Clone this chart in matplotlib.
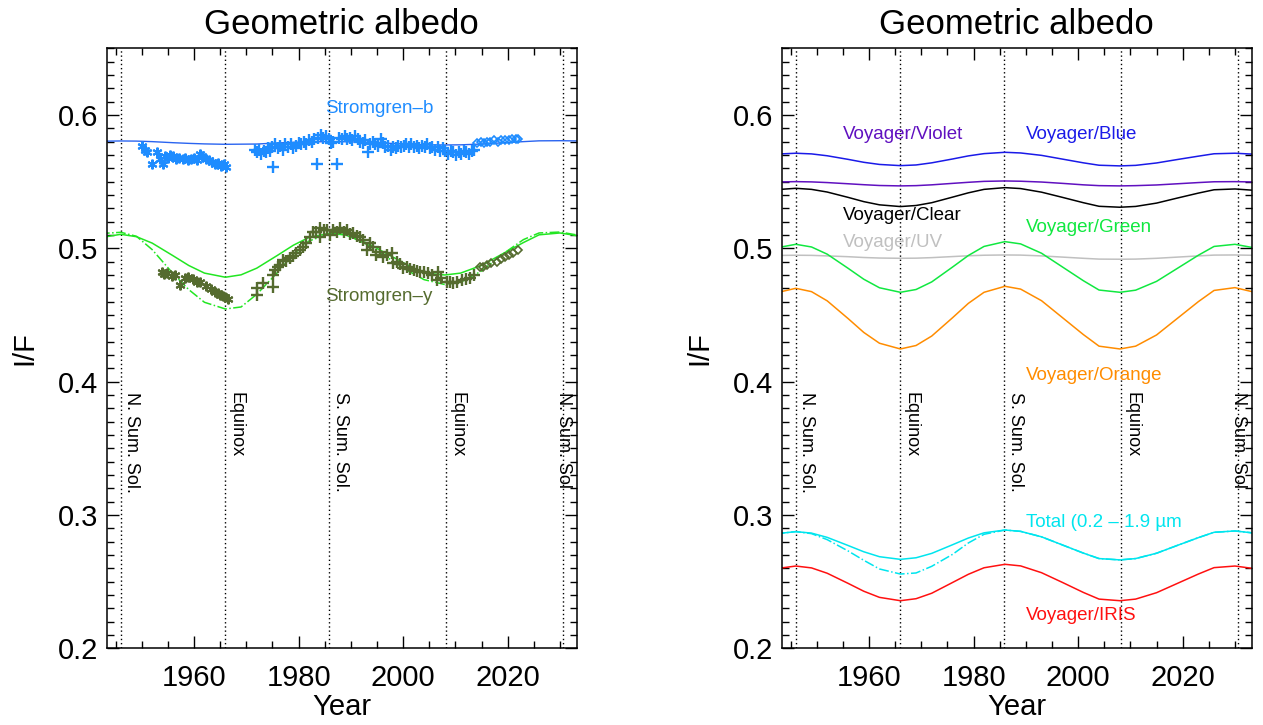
import matplotlib
matplotlib.use('Agg')
import matplotlib.pyplot as plt
from matplotlib.ticker import MultipleLocator, FormatStrFormatter

plt.rcParams['font.family'] = ['Liberation Sans', 'DejaVu Sans']

# model grid (years) shared by all model curves
yr_m = [1942, 1946, 1949, 1952, 1956, 1959, 1962, 1966, 1969, 1972, 1976, 1979, 1982,
        1986, 1989, 1993, 1997, 2001, 2004, 2008, 2011, 2015, 2019, 2023, 2026, 2030, 2034]

# left panel: Stromgren models
strom_b_model = [0.5803, 0.5805, 0.5804, 0.5800, 0.5792, 0.5787, 0.5783, 0.5780, 0.5781,
                 0.5782, 0.5790, 0.5795, 0.5798, 0.5800, 0.5799, 0.5795, 0.5788, 0.5781,
                 0.5776, 0.5775, 0.5776, 0.5782, 0.5791, 0.5800, 0.5806, 0.5807, 0.5805]
strom_y_model = [0.5079, 0.5105, 0.5087, 0.5039, 0.4944, 0.4871, 0.4814, 0.4783, 0.4801,
                 0.4851, 0.4948, 0.5023, 0.5082, 0.5113, 0.5099, 0.5041, 0.4957, 0.4872,
                 0.4814, 0.4800, 0.4814, 0.4872, 0.4958, 0.5043, 0.5101, 0.5115, 0.5090]
strom_y_model2 = [0.511, 0.512, 0.509, 0.499, 0.481, 0.469, 0.4595, 0.4545, 0.456,
                  0.4655, 0.482, 0.4955, 0.5055, 0.511, 0.5105, 0.503, 0.493, 0.483,
                  0.4765, 0.4728, 0.4745, 0.483, 0.4955, 0.5065, 0.5115, 0.5122, 0.5095]

# Stromgren-b observations
b_star_yr = [1950.0, 1950.6, 1951.1, 1951.9, 1953.0, 1953.5, 1954.0, 1954.4, 1955.0, 1955.5,
             1956.0, 1956.6, 1957.2, 1957.8, 1958.3, 1958.9, 1959.5, 1960.0, 1960.6, 1961.1,
             1961.6, 1962.2, 1962.8, 1963.4, 1964.0, 1964.6, 1965.2, 1965.7, 1966.2]
b_star_val = [0.577, 0.574, 0.572, 0.563, 0.572, 0.567, 0.563, 0.569, 0.568, 0.570,
              0.569, 0.567, 0.568, 0.567, 0.568, 0.566, 0.567, 0.568, 0.566, 0.571,
              0.569, 0.567, 0.566, 0.565, 0.563, 0.564, 0.562, 0.563, 0.561]
b_plus_yr = [1971.6, 1972.0, 1972.4, 1972.9, 1973.3, 1973.8, 1974.2, 1974.6, 1975.2, 1975.0,
             1975.5, 1976.0, 1976.5, 1977.0, 1977.5, 1978.0, 1978.5, 1979.0, 1979.5, 1980.0,
             1980.5, 1981.0, 1981.5, 1982.0, 1982.5, 1983.0, 1983.5, 1983.8, 1984.2, 1984.6,
             1985.2, 1985.8, 1986.2, 1986.6, 1987.4, 1987.8, 1988.3, 1988.8, 1989.3, 1989.8,
             1990.3, 1990.8, 1991.3, 1991.8, 1992.3, 1992.8, 1993.3, 1993.7, 1994.2, 1994.7,
             1995.2, 1995.7, 1996.1, 1996.6, 1997.1, 1997.6, 1998.1, 1998.6, 1999.1, 1999.6,
             2000.1, 2000.6, 2001.1, 2001.6, 2002.1, 2002.6, 2003.1, 2003.6, 2004.1, 2004.6,
             2005.1, 2005.6, 2006.1, 2006.6, 2007.1, 2007.6, 2008.1, 2008.6, 2009.1, 2009.6,
             2010.1, 2010.6, 2011.1, 2011.6, 2012.1, 2012.6, 2013.1, 2013.6]
b_plus_val = [0.574, 0.572, 0.574, 0.571, 0.573, 0.572, 0.575, 0.573, 0.561, 0.576,
              0.578, 0.575, 0.577, 0.574, 0.578, 0.576, 0.578, 0.575, 0.577, 0.579,
              0.578, 0.580, 0.578, 0.581, 0.580, 0.582, 0.563, 0.583, 0.585, 0.583,
              0.584, 0.582, 0.579, 0.580, 0.563, 0.583, 0.582, 0.584, 0.582, 0.583,
              0.581, 0.584, 0.582, 0.580, 0.579, 0.581, 0.5725, 0.578, 0.580, 0.578,
              0.577, 0.582, 0.579, 0.576, 0.577, 0.574, 0.576, 0.575, 0.577, 0.576,
              0.577, 0.578, 0.576, 0.578, 0.576, 0.577, 0.575, 0.577, 0.576, 0.578,
              0.575, 0.576, 0.574, 0.576, 0.573, 0.575, 0.573, 0.571, 0.573, 0.572,
              0.570, 0.572, 0.571, 0.573, 0.572, 0.571, 0.573, 0.574]
b_dia_yr = [2014.2, 2014.8, 2015.4, 2016.0, 2016.7, 2017.4, 2018.1, 2018.8, 2019.5, 2020.2,
            2020.9, 2021.5, 2022.0]
b_dia_val = [0.579, 0.580, 0.579, 0.580, 0.580, 0.581, 0.580, 0.581, 0.581, 0.581,
             0.582, 0.582, 0.582]

# Stromgren-y observations
y_star_yr = [1953.8, 1954.3, 1954.8, 1955.7, 1956.3, 1957.3, 1958.2, 1958.9, 1959.8, 1960.5,
             1961.2, 1962.3, 1963.2, 1964.0, 1964.6, 1965.0, 1965.5, 1965.9, 1966.5]
y_star_val = [0.4825, 0.4810, 0.4813, 0.4792, 0.4800, 0.4725, 0.4780, 0.4783, 0.4767, 0.4750,
              0.4745, 0.4718, 0.4695, 0.4675, 0.4665, 0.4650, 0.4640, 0.4633, 0.4618]
y_plus_yr = [1972.0, 1972.0, 1973.2, 1975.2, 1975.2, 1975.5, 1976.0, 1976.4, 1977.1, 1977.6,
             1978.3, 1978.9, 1979.6, 1980.2, 1980.9, 1981.5, 1982.2, 1982.8, 1983.4, 1984.1,
             1984.1, 1984.8, 1985.4, 1986.0, 1986.6, 1987.3, 1987.9, 1988.6, 1989.2, 1989.9,
             1990.5, 1991.1, 1991.7, 1992.4, 1993.0, 1993.6, 1994.3, 1994.9, 1995.6, 1996.2,
             1997.0, 1997.8, 1998.1, 1998.8, 1999.4, 2000.0, 2000.7, 2001.3, 2002.0, 2002.6,
             2003.2, 2004.0, 2004.8, 2005.5, 2006.4, 2006.7, 2007.3, 2008.3, 2008.9, 2009.6,
             2010.3, 2011.2, 2012.0, 2012.8, 2013.6]
y_plus_val = [0.4700, 0.4650, 0.4738, 0.4713, 0.4800, 0.4838, 0.4860, 0.4875, 0.4913, 0.4905,
              0.4925, 0.4945, 0.4963, 0.4985, 0.5012, 0.5040, 0.5088, 0.5125, 0.5120, 0.5150,
              0.5088, 0.5140, 0.5135, 0.5100, 0.5138, 0.5125, 0.5150, 0.5120, 0.5138, 0.5110,
              0.5113, 0.5095, 0.5088, 0.5060, 0.4988, 0.5040, 0.5013, 0.4950, 0.4975, 0.4938,
              0.4950, 0.4963, 0.4888, 0.4900, 0.4880, 0.4850, 0.4860, 0.4845, 0.4838, 0.4830,
              0.4825, 0.4820, 0.4813, 0.4800, 0.4763, 0.4825, 0.4780, 0.4750, 0.4745, 0.4738,
              0.4750, 0.4763, 0.4770, 0.4775, 0.4800]
y_dia_yr = [2014.7, 2015.3, 2016.0, 2016.9, 2017.9, 2018.7, 2019.5, 2020.3, 2021.1, 2022.0]
y_dia_val = [0.4863, 0.4860, 0.4875, 0.4890, 0.4900, 0.4920, 0.4938, 0.4950, 0.4963, 0.4988]

# right panel: Voyager models
voy_blue = [0.5706, 0.5713, 0.5708, 0.5694, 0.5667, 0.5645, 0.5629, 0.5620, 0.5625,
            0.5641, 0.5670, 0.5693, 0.5710, 0.5720, 0.5715, 0.5697, 0.5669, 0.5641,
            0.5623, 0.5618, 0.5622, 0.5640, 0.5666, 0.5691, 0.5709, 0.5713, 0.5705]
voy_violet = [0.5497, 0.5500, 0.5498, 0.5493, 0.5484, 0.5477, 0.5471, 0.5468, 0.5470,
              0.5476, 0.5487, 0.5495, 0.5502, 0.5505, 0.5503, 0.5497, 0.5487, 0.5476,
              0.5470, 0.5468, 0.5470, 0.5475, 0.5484, 0.5493, 0.5499, 0.5500, 0.5497]
voy_clear = [0.5439, 0.5450, 0.5442, 0.5422, 0.5382, 0.5350, 0.5326, 0.5313, 0.5321,
             0.5342, 0.5384, 0.5416, 0.5442, 0.5455, 0.5448, 0.5421, 0.5382, 0.5342,
             0.5315, 0.5308, 0.5314, 0.5339, 0.5377, 0.5414, 0.5439, 0.5445, 0.5434]
voy_uv = [0.4946, 0.4948, 0.4947, 0.4943, 0.4937, 0.4931, 0.4927, 0.4925, 0.4926,
          0.4930, 0.4938, 0.4944, 0.4948, 0.4950, 0.4949, 0.4943, 0.4934, 0.4925,
          0.4919, 0.4918, 0.4919, 0.4925, 0.4934, 0.4943, 0.4949, 0.4950, 0.4947]
voy_green = [0.5001, 0.5030, 0.5010, 0.4956, 0.4850, 0.4768, 0.4704, 0.4670, 0.4691,
             0.4748, 0.4860, 0.4946, 0.5014, 0.5050, 0.5033, 0.4963, 0.4860, 0.4757,
             0.4687, 0.4670, 0.4686, 0.4752, 0.4850, 0.4948, 0.5014, 0.5030, 0.5001]
voy_orange = [0.4664, 0.4700, 0.4675, 0.4606, 0.4473, 0.4369, 0.4288, 0.4245, 0.4271,
              0.4342, 0.4480, 0.4587, 0.4670, 0.4715, 0.4694, 0.4607, 0.4480, 0.4353,
              0.4266, 0.4245, 0.4266, 0.4350, 0.4475, 0.4600, 0.4684, 0.4705, 0.4668]
total = [0.2858, 0.2875, 0.2864, 0.2832, 0.2771, 0.2724, 0.2687, 0.2667, 0.2679,
         0.2712, 0.2777, 0.2827, 0.2866, 0.2887, 0.2877, 0.2836, 0.2775, 0.2714,
         0.2673, 0.2663, 0.2673, 0.2713, 0.2772, 0.2830, 0.2870, 0.2880, 0.2863]
total2 = [0.2858, 0.2875, 0.2860, 0.2815, 0.2730, 0.2660, 0.2595, 0.2557, 0.2565,
          0.2615, 0.2705, 0.2790, 0.2855, 0.2887, 0.2877, 0.2836, 0.2775, 0.2714,
          0.2673, 0.2663, 0.2673, 0.2713, 0.2772, 0.2830, 0.2870, 0.2880, 0.2863]
voy_iris = [0.2596, 0.2617, 0.2603, 0.2563, 0.2487, 0.2428, 0.2382, 0.2357, 0.2372,
            0.2413, 0.2494, 0.2555, 0.2604, 0.2630, 0.2618, 0.2567, 0.2494, 0.2419,
            0.2369, 0.2357, 0.2369, 0.2417, 0.2487, 0.2557, 0.2605, 0.2617, 0.2596]

season_yr = [1946.0, 1966.0, 1985.9, 2008.2, 2030.6]
season_lab = ['N. Sum. Sol.', 'Equinox', 'S. Sum. Sol.', 'Equinox', 'N. Sum. Sol']

c_bpts = '#1e8cff'
c_bline = '#2a64f0'
c_ygreen = '#22e622'
c_olive = '#556b2f'

W, H = 1263, 725
fig = plt.figure(figsize=(W / 100, H / 100), dpi=100)
ax1 = fig.add_axes([106.7 / W, 1 - 648.3 / H, 470 / W, 600 / H])
ax2 = fig.add_axes([781.7 / W, 1 - 648.3 / H, 470 / W, 600 / H])


def setup(ax):
    ax.set_xlim(1943.3, 2033.2)
    ax.set_ylim(0.2, 0.65)
    ax.set_xticks([1960, 1980, 2000, 2020])
    ax.set_yticks([0.2, 0.3, 0.4, 0.5, 0.6])
    ax.yaxis.set_major_formatter(FormatStrFormatter('%.1f'))
    ax.xaxis.set_minor_locator(MultipleLocator(5))
    ax.yaxis.set_minor_locator(MultipleLocator(0.01))
    ax.tick_params(which='both', direction='in', top=True, right=True, width=1.0)
    ax.tick_params(which='major', length=8.5, labelsize=21)
    ax.tick_params(which='minor', length=4.7)
    ax.tick_params(axis='x', pad=11)
    ax.tick_params(axis='y', pad=6)
    for s in ax.spines.values():
        s.set_linewidth(1.1)
    ax.set_title('Geometric albedo', fontsize=25, pad=10)
    ax.set_xlabel('Year', fontsize=21, labelpad=1)
    ax.set_ylabel('I/F', fontsize=21, labelpad=14)
    for i, (x, lab) in enumerate(zip(season_yr, season_lab)):
        ax.axvline(x, color='k', ls=(0, (1, 2)), lw=1.0, zorder=1)
        if i == len(season_yr) - 1:
            ax.text(x, 0.392, lab, rotation=-90, ha='center', va='top', fontsize=13)
        else:
            ax.text(x + 0.5, 0.392, lab, rotation=-90, ha='left', va='top', fontsize=13)


setup(ax1)
setup(ax2)

# left panel
ax1.plot(yr_m, strom_b_model, color=c_bline, lw=1.0)
ax1.plot(yr_m, strom_y_model, color=c_ygreen, lw=1.1)
ax1.plot(yr_m, strom_y_model2, color=c_ygreen, lw=1.1, ls='-.')
ax1.plot(b_star_yr, b_star_val, ls='none', marker=(6, 2, 0), ms=7, mew=1.5, color=c_bpts)
ax1.plot(b_plus_yr, b_plus_val, ls='none', marker='+', ms=8, mew=1.7, color=c_bpts)
ax1.plot(b_dia_yr, b_dia_val, ls='none', marker='D', ms=4.5, mew=1.2, mfc='none', color=c_bpts)
ax1.plot(y_star_yr, y_star_val, ls='none', marker=(6, 2, 0), ms=7, mew=1.5, color=c_olive)
ax1.plot(y_plus_yr, y_plus_val, ls='none', marker='+', ms=8, mew=1.7, color=c_olive)
ax1.plot(y_dia_yr, y_dia_val, ls='none', marker='D', ms=4.5, mew=1.2, mfc='none', color=c_olive)
ax1.text(1985.0, 0.605, 'Stromgren–b', color=c_bpts, fontsize=13.5, va='center')
ax1.text(1985.0, 0.4637, 'Stromgren–y', color=c_olive, fontsize=13.5, va='center')

# right panel
right_curves = [
    (voy_blue, '#1a1ae8', 'Voyager/Blue', 1990.0, 0.585),
    (voy_violet, '#6010c0', 'Voyager/Violet', 1955.0, 0.585),
    (voy_clear, 'black', 'Voyager/Clear', 1955.0, 0.5243),
    (voy_uv, '#c0c0c0', 'Voyager/UV', 1955.0, 0.5042),
    (voy_green, '#10e840', 'Voyager/Green', 1990.0, 0.5153),
    (voy_orange, '#ff8c00', 'Voyager/Orange', 1990.0, 0.4043),
    (total, '#00e5ee', 'Total (0.2 – 1.9 µm', 1990.0, 0.2942),
    (voy_iris, '#ff1010', 'Voyager/IRIS', 1990.0, 0.2243),
]
for vals, col, lab, tx, ty in right_curves:
    ax2.plot(yr_m, vals, color=col, lw=1.1)
    ax2.text(tx, ty, lab, color=col, fontsize=13.5, va='center')
ax2.plot(yr_m, total2, color='#00e5ee', lw=1.1, ls='-.')

fig.savefig('out.png', dpi=100)
